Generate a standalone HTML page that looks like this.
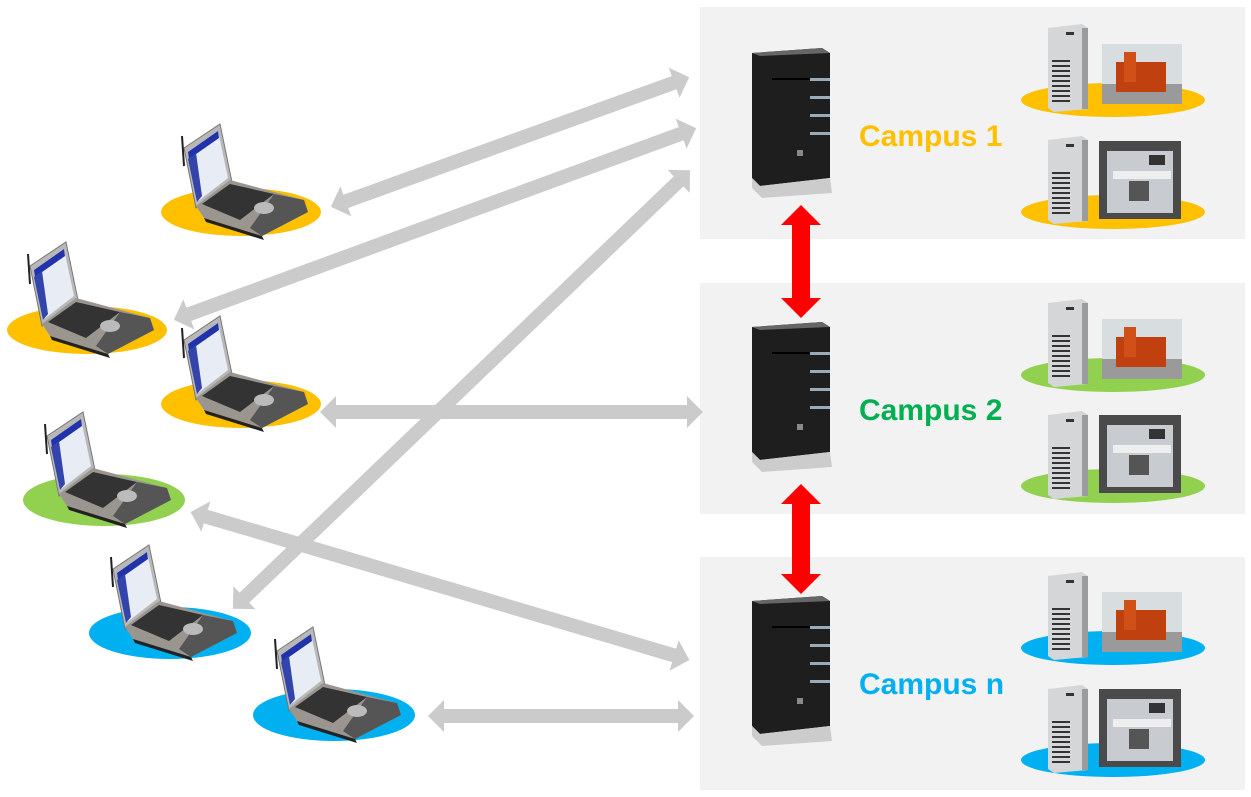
<!DOCTYPE html>
<html><head><meta charset="utf-8"><style>
html,body{margin:0;padding:0;background:#fff;}
svg{display:block;}
text{font-family:"Liberation Sans",Arial,sans-serif;font-weight:bold;font-size:30px;}
</style></head><body>
<svg width="1251" height="797" viewBox="0 0 1251 797" xmlns="http://www.w3.org/2000/svg">
<defs>
<marker id="g" viewBox="0 0 16 32" refX="2" refY="16" markerWidth="16" markerHeight="32" markerUnits="userSpaceOnUse" orient="auto-start-reverse">
<path d="M0,0 L16,16 L0,32 Z" fill="#cbcbcb"/></marker>
<marker id="r" viewBox="0 0 20 40" refX="2" refY="20" markerWidth="20" markerHeight="40" markerUnits="userSpaceOnUse" orient="auto-start-reverse">
<path d="M0,0 L20,20 L0,40 Z" fill="#ff0000"/></marker>
<g id="lap">
<polygon points="-68,-58 -32,-82 -20,-24 -56,2" fill="#b8b8b8" stroke="#777" stroke-width="1"/>
<polygon points="-64,-54 -34,-75 -24,-28 -55,-4" fill="#e8ecf4"/>
<polygon points="-64,-54 -34,-75 -33,-68 -63,-47" fill="#2233aa"/>
<polygon points="-64,-47 -56,-53 -50,-10 -55,-4" fill="#3344aa"/>
<line x1="-70" y1="-70" x2="-68" y2="-40" stroke="#222" stroke-width="2"/>
<polygon points="-56,0 -22,-26 52,-6 56,6 10,30 -48,12" fill="#9a958e"/>
<polygon points="-50,-2 -22,-22 22,-12 -12,14" fill="#333"/>
<polygon points="22,-12 52,-6 56,6 10,30 -2,22" fill="#555"/>
<ellipse cx="12" cy="2" rx="10" ry="6" fill="#bbb"/>
<polygon points="-48,12 10,30 12,34 -46,16" fill="#222"/>
</g>
<g id="srv">
<polygon points="0,5 70,0 78,5 78,130 8,138 0,130" fill="#1e1e1e"/>
<polygon points="0,5 70,0 78,5 8,8" fill="#666"/>
<rect x="20" y="30" width="58" height="2" fill="#000"/>
<rect x="58" y="30" width="20" height="3" fill="#9ab"/>
<rect x="58" y="48" width="20" height="3" fill="#9ab"/>
<rect x="58" y="66" width="20" height="3" fill="#9ab"/>
<rect x="58" y="84" width="20" height="3" fill="#9ab"/>
<rect x="45" y="102" width="6" height="6" fill="#888"/>
<polygon points="0,130 8,138 78,130 80,145 10,150 0,140" fill="#ccc"/>
</g>
<g id="twr">
<polygon points="0,4 34,0 40,4 40,85 6,88 0,84" fill="#d4d6d8"/>
<rect x="34" y="4" width="6" height="81" fill="#9a9c9e"/>
<g fill="#333"><rect x="4" y="36" width="18" height="2"/><rect x="4" y="41" width="18" height="2"/><rect x="4" y="46" width="18" height="2"/><rect x="4" y="51" width="18" height="2"/><rect x="4" y="56" width="18" height="2"/><rect x="4" y="61" width="18" height="2"/><rect x="4" y="66" width="18" height="2"/><rect x="4" y="71" width="18" height="2"/><rect x="4" y="76" width="18" height="2"/></g>
<rect x="18" y="8" width="8" height="3" fill="#333"/>
</g>
<g id="m1"><rect width="80" height="60" fill="#d8dde0"/><rect y="40" width="80" height="20" fill="#9a9a9a"/><rect x="14" y="18" width="50" height="30" fill="#c04010"/><rect x="22" y="8" width="12" height="30" fill="#d05018"/></g>
<g id="m2"><rect width="82" height="78" fill="#4a4a4a"/><rect x="8" y="10" width="66" height="62" fill="#c8ccd0"/><rect x="14" y="30" width="58" height="8" fill="#eee"/><rect x="30" y="40" width="20" height="20" fill="#555"/><rect x="50" y="14" width="16" height="10" fill="#333"/></g>
</defs>

<rect x="700" y="7" width="545" height="232" fill="#f2f2f2"/>
<rect x="700" y="283" width="545" height="231" fill="#f2f2f2"/>
<rect x="700" y="557" width="545" height="233" fill="#f2f2f2"/>

<ellipse cx="241" cy="212" rx="80" ry="24" fill="#ffc000"/><use href="#lap" x="252" y="206"/>
<ellipse cx="87" cy="330" rx="80" ry="24" fill="#ffc000"/><use href="#lap" x="98" y="324"/>
<ellipse cx="241" cy="404" rx="80" ry="24" fill="#ffc000"/><use href="#lap" x="252" y="398"/>
<ellipse cx="104" cy="500" rx="81" ry="26" fill="#92d050"/><use href="#lap" x="115" y="494"/>
<ellipse cx="170" cy="633" rx="81" ry="26" fill="#00b0f0"/><use href="#lap" x="181" y="627"/>
<ellipse cx="334" cy="715" rx="81" ry="26" fill="#00b0f0"/><use href="#lap" x="345" y="709"/>

<g stroke="#cbcbcb" stroke-width="14" marker-start="url(#g)" marker-end="url(#g)">
<line x1="344" y1="202" x2="676" y2="82"/>
<line x1="187" y1="315" x2="683" y2="133"/>
<line x1="334" y1="412" x2="689" y2="412"/>
<line x1="243" y1="599" x2="680" y2="180"/>
<line x1="204" y1="516" x2="676" y2="656"/>
<line x1="442" y1="716" x2="680" y2="716"/>
</g>

<use href="#srv" x="752" y="48"/>
<use href="#srv" x="752" y="322"/>
<use href="#srv" x="752" y="596"/>

<g stroke="#ff0000" stroke-width="18" marker-start="url(#r)" marker-end="url(#r)">
<line x1="801" y1="223" x2="801" y2="300"/>
<line x1="801" y1="502" x2="801" y2="576"/>
</g>

<text x="859" y="146" fill="#ffc000">Campus 1</text>
<text x="859" y="420" fill="#00b050">Campus 2</text>
<text x="859" y="694" fill="#00b0f0">Campus n</text>

<ellipse cx="1113" cy="100" rx="92" ry="17" fill="#ffc000"/>
<use href="#twr" x="1048" y="24"/><use href="#m1" x="1102" y="44"/>
<ellipse cx="1113" cy="212" rx="92" ry="17" fill="#ffc000"/>
<use href="#twr" x="1048" y="136"/><use href="#m2" x="1099" y="141"/>
<ellipse cx="1113" cy="375" rx="92" ry="17" fill="#92d050"/>
<use href="#twr" x="1048" y="299"/><use href="#m1" x="1102" y="319"/>
<ellipse cx="1113" cy="486" rx="92" ry="17" fill="#92d050"/>
<use href="#twr" x="1048" y="411"/><use href="#m2" x="1099" y="415"/>
<ellipse cx="1113" cy="648" rx="92" ry="17" fill="#00b0f0"/>
<use href="#twr" x="1048" y="572"/><use href="#m1" x="1102" y="592"/>
<ellipse cx="1113" cy="760" rx="92" ry="17" fill="#00b0f0"/>
<use href="#twr" x="1048" y="685"/><use href="#m2" x="1099" y="689"/>
</svg>
</body></html>
